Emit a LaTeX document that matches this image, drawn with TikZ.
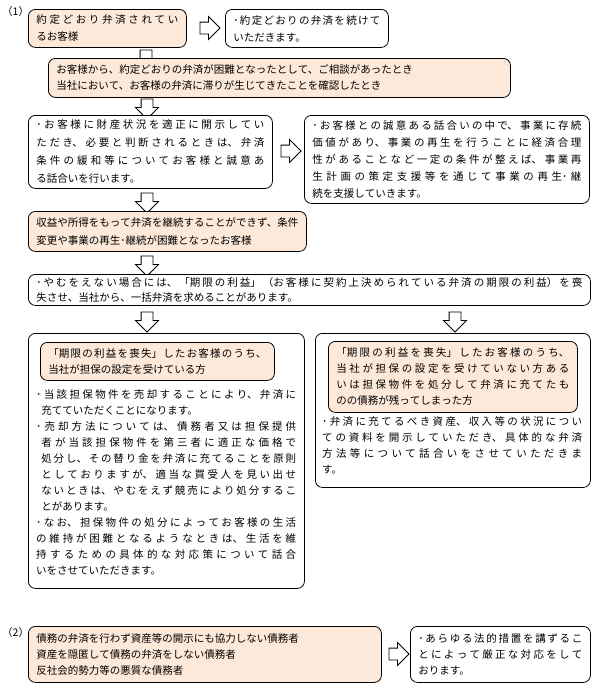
\documentclass[tikz,border=0pt]{standalone}
\usepackage{fontspec}
\setmainfont{Noto Sans CJK JP}
\usetikzlibrary{shapes.arrows}
\XeTeXlinebreaklocale "ja"
\definecolor{peach}{RGB}{253,233,217}
\def\lskip{16}
\newcommand{\jp}{\fontsize{10.5}{\lskip}\selectfont\tolerance=10000\parfillskip=0pt plus 1fill\XeTeXlinebreakskip=0pt plus 1fil minus .4pt\relax}
\newcommand{\bul}{\hangindent=.5em\hangafter=1 ･}
\tikzset{
  box/.style={draw, rounded corners=7pt, line width=.8pt, fill=white, anchor=north west, inner xsep=8pt, inner ysep=0pt, execute at begin node=\jp},
  pbox/.style={box, fill=peach},
  wh/.style 2 args={minimum width=#1, minimum height=#2, text width=#1-16pt},
  pitch/.code={\def\lskip{#1}},
  txt/.style={anchor=north west, inner sep=0pt, execute at begin node=\jp},
  lbl/.style={anchor=north west, inner sep=0pt, font=\fontsize{10.5}{16}\selectfont},
  fatarrow/.style={single arrow, draw, fill=white, line width=.8pt, minimum height=20pt, inner xsep=0pt, inner ysep=5.5pt, single arrow head extend=5.5pt, single arrow tip angle=90}
}
\begin{document}
\begin{tikzpicture}[x=1pt,y=-1pt]
    % \draw[very thin,color=gray] (0,0) grid[step=50] (597,691);
    \useasboundingbox (0,0) rectangle (597,691);
    %(1)
    \node[lbl] (n1) at (2,6) {（1）};
    \node[fatarrow, rotate=-90, minimum height=24pt] (aAC) at (146,59) {};
    \node[pbox, wh={158pt}{38pt}, pitch=17] (A) at (28,9) {約定どおり弁済されてい\linebreak るお客様};
    \node[fatarrow] (aAB) at (207,28) {};
    \node[box, wh={163pt}{38pt}, pitch=17] (B) at (225,9) {\bul 約定どおりの弁済を続けて\linebreak いただきます。};
    \node[pbox, wh={462pt}{39pt}] (C) at (48,58) {お客様から、約定どおりの弁済が困難となったとして、ご相談があったとき\par 当社において、お客様の弁済に滞りが生じてきたことを確認したとき};
    \node[fatarrow, rotate=-90] (aCD) at (147,106) {};
    \node[box, wh={244pt}{73pt}, pitch=18] (D) at (28,115) {\bul お客様に財産状況を適正に開示してい\linebreak ただき、必要と判断されるときは、弁済\linebreak 条件の緩和等についてお客様と誠意あ\linebreak る話合いを行います。};
    \node[fatarrow] (aDE) at (288,151) {};
    \node[box, wh={285pt}{88pt}, pitch=17] (E) at (304,115) {\bul お客様との誠意ある話合いの中で、事業に存続\linebreak 価値があり、事業の再生を行うことに経済合理\linebreak 性があることなど一定の条件が整えば、事業再\linebreak 生計画の策定支援等を通じて事業の再生･継\linebreak 続を支援していきます。};
    \node[fatarrow, rotate=-90] (aDF) at (147,200) {};
    \node[pbox, wh={278pt}{40pt}, pitch=17.5] (F) at (28,211) {収益や所得をもって弁済を継続することができず、条件\linebreak 変更や事業の再生･継続が困難となったお客様};
    \node[fatarrow, rotate=-90] (aFG) at (147,263) {};
    \node[box, wh={562pt}{31pt}, pitch=15] (G) at (28,274) {\bul やむをえない場合には、「期限の利益」（お客様に契約上決められている弁済の期限の利益）を喪\linebreak 失させ、当社から、一括弁済を求めることがあります。};
    \node[fatarrow, rotate=-90] (aGH) at (147,319) {};
    \node[fatarrow, rotate=-90] (aGI) at (455,319) {};
    % left column
    \node[box, minimum width=276pt, minimum height=255pt] (H) at (28,333) {};
    \node[pbox, wh={234pt}{38pt}] (H1) at (40,342) {「期限の利益を喪失」したお客様のうち、\linebreak 当社が担保の設定を受けている方};
    \node[txt, text width=260pt] (Htxt) at (36,389) {\bul 当該担保物件を売却することにより、弁済に\linebreak 充てていただくことになります。\par \bul 売却方法については、債務者又は担保提供\linebreak 者が当該担保物件を第三者に適正な価格で\linebreak 処分し、その替り金を弁済に充てることを原則\linebreak としておりますが、適当な買受人を見い出せ\linebreak ないときは、やむをえず競売により処分するこ\linebreak とがあります。\par \bul なお、担保物件の処分によってお客様の生活\linebreak の維持が困難となるようなときは、生活を維\linebreak 持するための具体的な対応策について話合\linebreak いをさせていただきます。};
    % right column
    \node[box, minimum width=275pt, minimum height=154pt] (I) at (315,333) {};
    \node[pbox, wh={249pt}{71pt}] (I1) at (328,341) {「期限の利益を喪失」したお客様のうち、\linebreak 当社が担保の設定を受けていない方ある\linebreak いは担保物件を処分して弁済に充てたも\linebreak のの債務が残ってしまった方};
    \node[txt, text width=260pt] (Itxt) at (322,416) {\bul 弁済に充てるべき資産、収入等の状況につい\linebreak ての資料を開示していただき、具体的な弁済\linebreak 方法等について話合いをさせていただきま\linebreak す。};
    %(2)
    \node[lbl] (n2) at (2,627) {（2）};
    \node[pbox, wh={353pt}{56pt}] (J) at (28,626) {債務の弁済を行わず資産等の開示にも協力しない債務者\par 資産を隠匿して債務の弁済をしない債務者\par 反社会的勢力等の悪質な債務者};
    \node[fatarrow] (aJK) at (396,654) {};
    \node[box, wh={180pt}{56pt}] (K) at (410,626) {\bul あらゆる法的措置を講ずるこ\linebreak とによって厳正な対応をして\linebreak おります。};
\end{tikzpicture}
\end{document}
